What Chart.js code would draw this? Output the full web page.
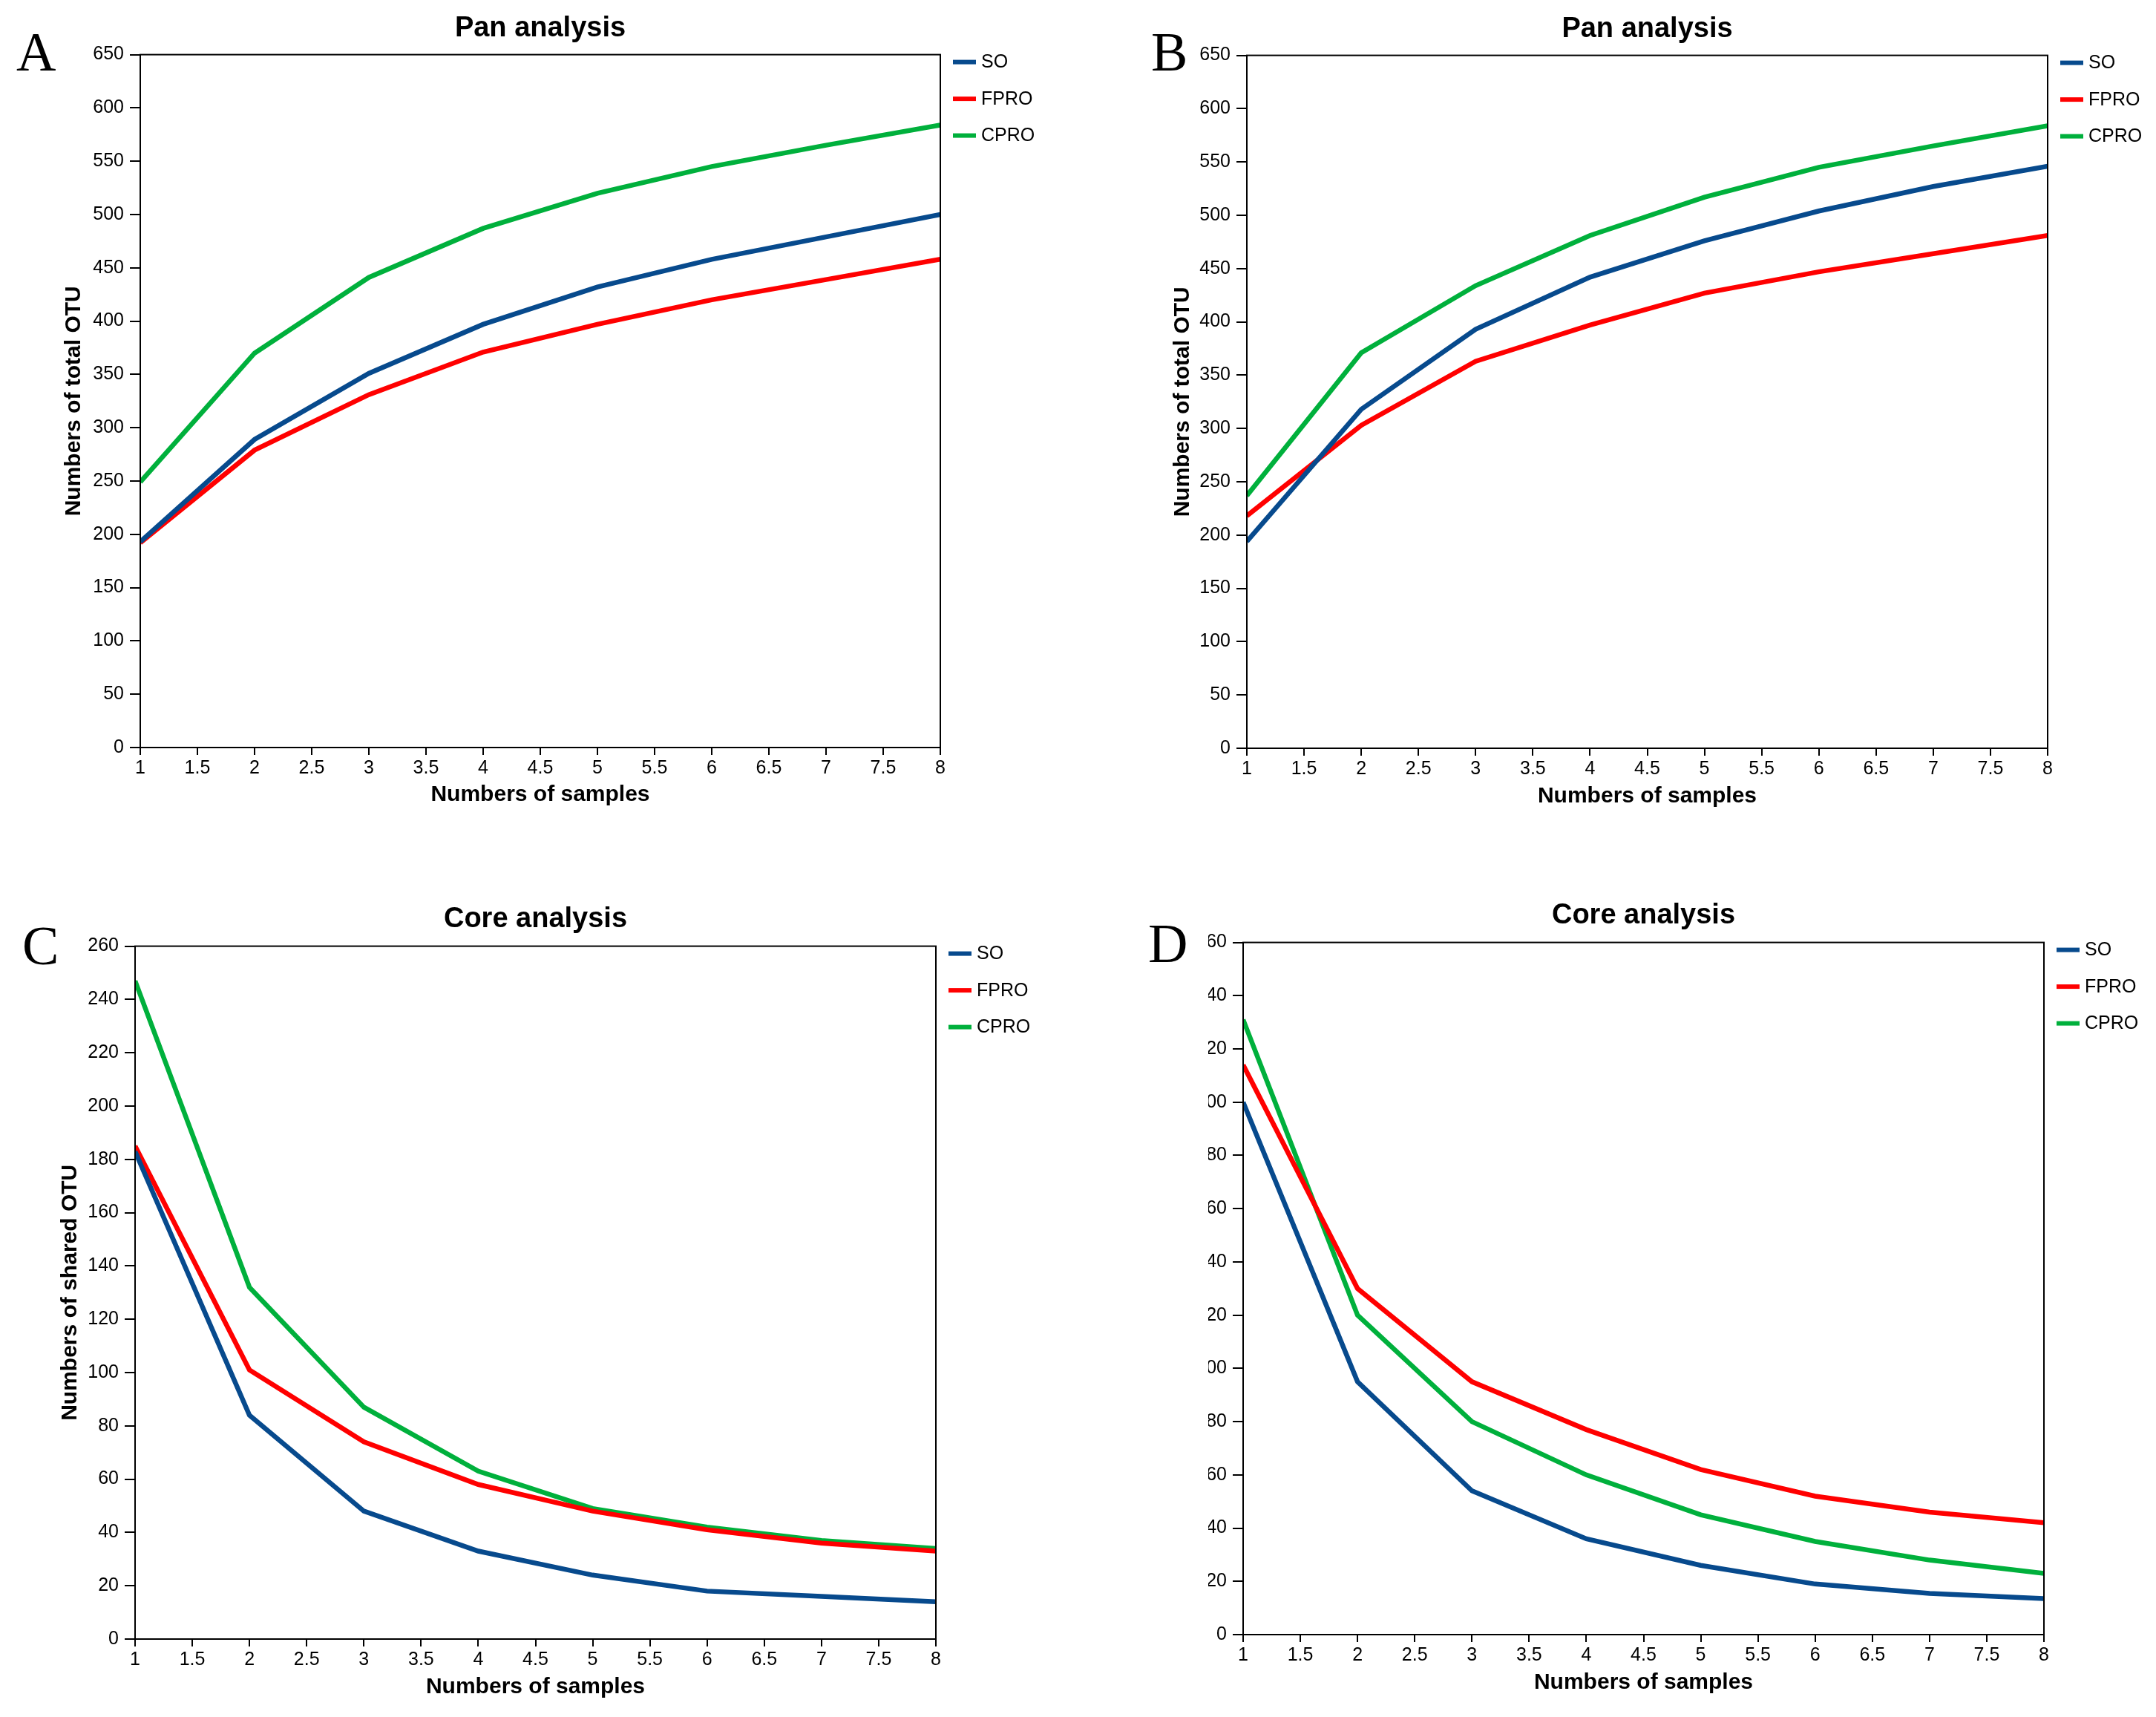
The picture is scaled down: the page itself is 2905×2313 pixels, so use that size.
<!DOCTYPE html>
<html><head><meta charset="utf-8">
<script src="https://cdn.jsdelivr.net/npm/chart.js@4/dist/chart.umd.min.js"></script>
<style>
html,body{margin:0;padding:0;background:#fff;}
body{width:2905px;height:2313px;position:relative;overflow:hidden;}
canvas{position:absolute;}
.letter{position:absolute;font-family:'Liberation Serif','Times New Roman',serif;font-size:74px;line-height:74px;color:#000;}
</style></head><body>
<div class="letter" style="left:22px;top:33px">A</div>
<div class="letter" style="left:1551px;top:33px">B</div>
<div class="letter" style="left:30px;top:1237px">C</div>
<div class="letter" style="left:1547px;top:1234px">D</div>
<canvas id="cA" width="1452" height="1130" style="left:0;top:0;width:1452px;height:1130px"></canvas>
<canvas id="cB" width="1425" height="1130" style="left:1480px;top:0;width:1425px;height:1130px"></canvas>
<canvas id="cC" width="1452" height="1133" style="left:0;top:1180px;width:1452px;height:1133px"></canvas>
<div style="position:absolute;left:1628px;top:1180px;width:1277px;height:1133px;overflow:hidden">
<canvas id="cD" width="1425" height="1133" style="left:-148px;top:0;width:1425px;height:1133px"></canvas>
</div>
<script>
// ---- data ----
const samples = [1, 2, 3, 4, 5, 6, 7, 8];
const xTickLabels = ['1','1.5','2','2.5','3','3.5','4','4.5','5','5.5','6','6.5','7','7.5','8'];
const seriesNames = ['SO', 'FPRO', 'CPRO'];

const aSO   = [193, 289, 351, 397, 432, 458, 479, 500];
const aFPRO = [192, 279, 331, 371, 397, 420, 439, 458];
const aCPRO = [249, 370, 441, 487, 520, 545, 565, 584];

const bSO   = [194, 318, 393, 442, 476, 504, 527, 546];
const bFPRO = [218, 303, 363, 397, 427, 447, 464, 481];
const bCPRO = [237, 371, 434, 481, 517, 545, 565, 584];

const cSO   = [183, 84, 48, 33, 24, 18, 16, 14];
const cFPRO = [185, 101, 74, 58, 48, 41, 36, 33];
const cCPRO = [247, 132, 87, 63, 49, 42, 37, 34];

const dSO   = [200, 95, 54, 36, 26, 19, 15.5, 13.5];
const dFPRO = [214, 130, 95, 77, 62, 52, 46, 42];
const dCPRO = [231, 120, 80, 60, 45, 35, 28, 23];

const colors = ['#074a8d', '#ff0000', '#00b03c'];

Chart.defaults.font.family = '"Liberation Sans", Arial, Helvetica, sans-serif';
Chart.defaults.color = '#000';

const sideLegend = {
  id: 'sideLegend',
  afterDraw(chart) {
    const {ctx, chartArea: a} = chart;
    ctx.save();
    ctx.strokeStyle = '#000';
    ctx.lineWidth = 2;
    ctx.strokeRect(a.left, a.top, a.right - a.left, a.bottom - a.top);
    chart.data.datasets.forEach((ds, i) => {
      const y = a.top + 10 + i * 49.5;
      ctx.fillStyle = ds.borderColor;
      ctx.fillRect(a.right + 17, y - 3, 31, 6);
      ctx.fillStyle = '#000';
      ctx.font = '25px "Liberation Sans", Arial, sans-serif';
      ctx.textBaseline = 'middle';
      ctx.textAlign = 'left';
      ctx.fillText(ds.label, a.right + 55, y + 1);
    });
    ctx.restore();
  }
};

function makeChart(id, p) {
  const datasets = p.series.map((vals, i) => ({
    label: seriesNames[i],
    data: samples.map((x, k) => ({x: x, y: vals[k]})),
    borderColor: colors[i],
    backgroundColor: colors[i],
    borderWidth: 6.5,
    pointRadius: 0,
    tension: 0,
    fill: false
  }));
  new Chart(document.getElementById(id), {
    type: 'line',
    data: {datasets},
    plugins: [sideLegend],
    options: {
      responsive: false,
      animation: false,
      devicePixelRatio: 1,
      layout: {padding: {left: 0, right: p.padRight, top: 0, bottom: 0}},
      plugins: {
        legend: {display: false},
        tooltip: {enabled: false},
        title: {
          display: true, text: p.title, fullSize: false, color: '#000',
          font: {size: 38, weight: 'bold'},
          padding: {top: p.titleTop, bottom: p.titleBottom}
        }
      },
      scales: {
        x: {
          type: 'linear', min: 1, max: 8,
          border: {display: true, color: '#000', width: 2},
          grid: {display: true, drawOnChartArea: false, drawTicks: true, tickLength: 10, color: '#000', lineWidth: 2},
          ticks: {stepSize: 0.5, autoSkip: false, maxRotation: 0, minRotation: 0, color: '#000',
                  font: {size: 25}, padding: 3,
                  callback: (v, i) => xTickLabels[i]},
          title: {display: true, text: 'Numbers of samples', color: '#000',
                  font: {size: 30, weight: 'bold'}, padding: {top: 0, bottom: p.xTitlePad}},
          afterFit: (s) => { s.height = p.xHeight; }
        },
        y: {
          type: 'linear', min: 0, max: p.yMax,
          border: {display: true, color: '#000', width: 2},
          grid: {display: true, drawOnChartArea: false, drawTicks: true, tickLength: 14, color: '#000', lineWidth: 2},
          ticks: {stepSize: p.yStep, autoSkip: false, color: '#000', font: {size: 25}, padding: 8},
          title: {display: true, text: p.yTitle, color: '#000',
                  font: {size: 30, weight: 'bold'}, padding: {top: p.yTitlePad, bottom: 0}},
          afterFit: (s) => { s.width = p.yWidth; }
        }
      }
    }
  });
}

makeChart('cA', {title: 'Pan analysis', yTitle: 'Numbers of total OTU', yMax: 650, yStep: 50,
  series: [aSO, aFPRO, aCPRO], padRight: 185, titleTop: 16, titleBottom: 12,
  xHeight: 123, xTitlePad: 41, yWidth: 189, yTitlePad: 82});
makeChart('cB', {title: 'Pan analysis', yTitle: 'Numbers of total OTU', yMax: 650, yStep: 50,
  series: [bSO, bFPRO, bCPRO], padRight: 146, titleTop: 17, titleBottom: 12,
  xHeight: 122, xTitlePad: 39, yWidth: 200, yTitlePad: 96});
makeChart('cC', {title: 'Core analysis', yTitle: 'Numbers of shared OTU', yMax: 260, yStep: 20,
  series: [cSO, cFPRO, cCPRO], padRight: 191, titleTop: 36, titleBottom: 13,
  xHeight: 105, xTitlePad: 22, yWidth: 182, yTitlePad: 77});
makeChart('cD', {title: 'Core analysis', yTitle: 'Numbers of shared OTU', yMax: 260, yStep: 20,
  series: [dSO, dFPRO, dCPRO], padRight: 151, titleTop: 31, titleBottom: 13,
  xHeight: 111, xTitlePad: 28, yWidth: 195, yTitlePad: 90});
</script>
</body></html>
